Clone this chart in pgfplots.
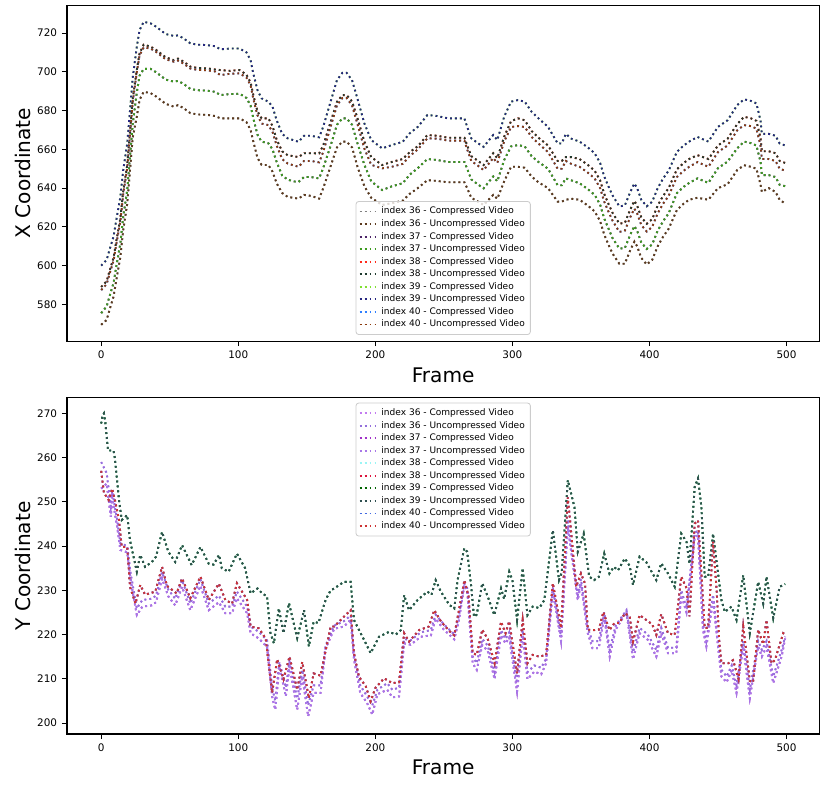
\documentclass[border=0pt]{standalone}
\usepackage{fontspec}
\setmainfont{DejaVu Sans}
\usepackage{pgfplots}
\pgfplotsset{compat=1.18}
\usepackage{pgfplotstable}

\definecolor{t36c}{HTML}{808080}
\definecolor{t36u}{HTML}{5C3A1E}
\definecolor{t37c}{HTML}{4B2367}
\definecolor{t37u}{HTML}{3C9A1E}
\definecolor{t38c}{HTML}{FF2A1A}
\definecolor{t38u}{HTML}{1E3A2E}
\definecolor{t39c}{HTML}{7FE030}
\definecolor{t39u}{HTML}{262680}
\definecolor{t40c}{HTML}{2F7FFF}
\definecolor{t40u}{HTML}{8B3A0E}
\definecolor{b36c}{HTML}{C27BF0}
\definecolor{b36u}{HTML}{9370DB}
\definecolor{b37c}{HTML}{A030C8}
\definecolor{b37u}{HTML}{A878E8}
\definecolor{b38c}{HTML}{9AF5F5}
\definecolor{b38u}{HTML}{DC143C}
\definecolor{b39c}{HTML}{006400}
\definecolor{b39u}{HTML}{2F4F4F}
\definecolor{b40c}{HTML}{4169E1}
\definecolor{b40u}{HTML}{CD3333}

\pgfplotstableread{
f n d b g o
0 600 589 587.4 575.5 569.5
4 603 592 590.5 579 572
6 608 597 595.5 584 577
9 615 604 602.5 591 584
11 623.5 612.5 611 599.5 592.5
14 635.5 624.5 623 611.5 604.5
16 649 638 636.5 625 618
19 663 652 650.5 639 632
21 680 669 667.5 656 649
23 697 686 684.5 673 666
26 713 701 700 689.5 677
28 721.5 709.5 708.5 698 685.5
31 725.8 714 712.6 701.5 689.7
36 725 713 712 701.5 689
40 723.3 711.3 710.3 699.8 687.3
47 719.5 707.5 706.5 696 683.5
53 718.5 706 705.2 694.9 682
56 718.8 706.8 705.8 695.3 682.8
60 717.3 705.3 704.3 693.8 681.3
65 714.7 702.7 701.7 691.2 678.7
70 714 702 701 690.5 678
77 713.8 701.8 700.8 690.3 677.8
83 713.2 701.2 700.2 689.7 677.2
87 711.6 700.9 698.3 688 676
94 712 700.5 699 688.5 676
101 712 700.9 699.2 688.7 676
106 710 698.5 697 686.5 674
109 706 694.5 693 682.5 670
111 699 688 686 676 664
114 690.6 679.6 677.6 667.6 655.6
117 686.3 676 673.3 664 652
122 684.6 676 672.5 663.1 651.9
125 682 672 669 660 648.5
128 675 665 662 653.5 642.5
132 668 659 655 646.5 637.5
136 665.7 657 652.7 644.4 635.5
140 664.8 656.5 651.8 643.5 635
144 663.9 656 651 643.2 634.6
148 667 658 654 645.7 636.5
153 667 658 654 645.7 636
159 666.2 657.9 653.3 645 634.6
162 671.7 662 658.7 650.4 640
167 683.7 673.2 670.7 661 650.5
172 695.7 684.5 682.7 672.7 661
176 699.5 688 686.5 676 664
179 699.5 688 686.5 676 664
183 695.7 684.7 682.7 672.7 661
187 686 676 673 663 651
192 673.4 664 660.4 652 641
197 664.8 656 652 643.5 635
205 660.5 651.9 650.2 639 631.3
212 662.2 653.5 651 640.9 632.2
220 663.9 655 652.5 642.5 633.5
225 668.2 658.5 656.5 646.9 637
231 671.6 661.6 660 650.3 640
238 677.7 667.4 665.7 655 644.1
245 677.2 667 665.5 654.5 643.7
253 676 666 664.5 653.5 643
260 676 666 664.5 653.5 643
265 676 666 664.5 653.5 643
267 671.6 662 660 650 640
270 665.7 656.5 654 644.5 635
275 663.1 654 651.5 641.8 633
279 661.3 651.9 649.3 639.9 631.3
286 667.4 658 655.5 646 636.5
289 664.8 655.5 653 643.5 634.5
294 676.8 666.5 664 654.5 643.5
299 684.6 674.5 671.5 661.5 651
304 685.4 676 672 662.2 651
309 684.6 675 671.5 661.5 650.5
314 679.4 669.5 666.4 656.5 646
319 676 666 663 653.5 643
326 671.6 662 658.6 650 640
333 663.1 654 650 641.5 633
336 663 654 650 641.5 633
339 668 656 654 645 634
343 665.5 656 652.5 644 634.5
349 664 655 651 642.5 634
355 661 652 648 639.5 631
360 658 649 645 636.5 628
364 653 644 640 631.5 623
367 646 637 633 624.3 616
370 641 632 628 619.3 611
373 636.3 627.3 623.3 614.3 606.3
378 630.6 621.7 617.4 608.8 601
382 631 622 618 609 601
386 638 629 625 616 608
389 642.4 633.4 629.4 620.4 612.4
391 640 631 627 618 610
394 634 625 621 612 604
398 630.6 621.6 617.6 608.6 600.6
402 633 624 620 611 603
406 640 631 627 618 610
410 645 636 632 623 615
414 649 640 636 627 619
420 658.7 649.7 645.7 637.4 628.7
425 662 653 649 640.7 632
429 664 655 651 642.7 634
435 666.4 657 653.4 645 635
443 664 655 651 642.7 634
450 671.6 662 658.6 650.3 640
457 675 665.5 662 653.7 642
464 682.8 673 669.8 660.5 649.3
469 685.8 676.8 672.5 664 651.8
474 685 676 672 663.2 651
478 683.7 674.7 670.7 662 650
481 675 666 662 653.7 642
482 668 659 655 646.7 638
487 668 659 655 646.7 640
492 667 658 654 645.7 638
495 663 654 650 641.7 634
499 662 653 649 641 632
}\topdata

\pgfplotstableread{
f y
0 267.7
1 269.5
2 270
3 268
5 261.6
9 261.6
10 259.8
13 250.4
15 245.9
19 247
21 241.3
26 234.2
28.5 238
32 235.3
37 236.4
40 237.6
44.4 243.2
49 238.7
54 236.4
59 240.2
66 235.7
72.4 239.8
78.5 236
82 235.8
86 238
88 235
93 234.2
99 238.3
105 235
109 229.3
114 230.4
117.5 229.3
121 228.6
123.5 220.3
126 218
129.6 225.9
133 220.3
137 227.1
143 219.2
148 225.5
151.5 217.3
155 222.9
158.5 222.6
163.7 227.8
167.4 230
170 230.4
177 231.9
182 231.9
184.4 223.3
190.6 219.5
196.6 215.8
202.7 219.5
210 220.6
215 220
218.6 221
221 228.9
224.6 225.5
230.8 227.8
238 229.7
241 229
244 232.3
247.8 229.7
254 226.7
257.6 225.9
260 232.3
264.9 239.5
267 238.7
269.7 231.6
272 224
274 224.5
278 231.6
282 228.6
286.8 224.4
291.7 230.4
294 228
297.7 234.2
300 232.3
303.4 223.3
307.5 235
311 224.4
314.8 226.3
319.7 226
323.3 227.8
329.5 243.6
334 232.3
336 234
340.4 254.9
345.3 248.8
347.7 238.7
352 242.8
356 233.1
359.6 232.3
363 233
367 238.3
370.8 233.8
374 235.3
377 234.5
382 237.2
385.6 235.5
388 231.2
392.8 237.6
397.6 236.4
401 234.5
405 232.3
408.6 236.1
413.5 233.8
418.4 230.8
423.2 242.8
427 241
429.2 236
433 253.4
435.4 255.3
437.9 248.8
440.3 233.1
442.8 233
446.4 242.8
450 234
452.5 227.8
455 225.1
459.8 226.3
463.5 223.3
468.4 233.4
473.2 220.3
479.3 231.9
483 227
485.4 233.1
490.3 223.7
495 230.8
499 231.4
}\Tdata

\pgfplotstableread{
f y
0 257
2 252
5.5 250.4
8 253
10 250.4
13 245.9
15 239.8
19 239.8
21 230.8
25 227
28.5 231.2
32 229
39.5 229.7
44.4 235.3
48 231
55 229.3
59 232.7
65 228.2
72.4 233.1
78.5 227.8
85.8 231.5
90.6 227.8
95.5 227
99 231.6
106.5 227.8
109 221.8
115 221.4
120 219.1
124.7 206.8
128.4 214.4
133 209.9
137.4 215
143 207.5
146.7 213.8
151.5 205.6
155 211.2
160 210.7
163.7 216.3
167.4 221.8
170 221.8
177 224
182 225.5
184.4 215.8
188 210.5
193 208.3
196.6 204.9
200 207.9
206.4 210.1
212.4 209
217.3 209.2
221 220.3
224.6 218.4
232 221
239 221.8
243 225.5
248 222.9
254 220.8
257.6 219.8
261 225.5
265 232.3
268 228.6
271 215.8
274 215.4
278 221.1
282 219
287 213.5
291.7 222.9
295 220.3
297.7 223
303.4 211.2
307.5 223.3
311 213.5
314.8 215.4
319.7 215
324.6 215.4
329.5 231.6
335.5 221.5
340.4 251
342 246
346.5 230.8
350 233.8
353 231.5
355 221.1
359.6 221
363 221.1
366.4 225.1
370.8 221
374.5 222.6
378 222.6
382 224.8
385.6 224.1
388 218.4
392.8 224.4
397.6 223.3
402 222.3
405 219.9
408.6 224.6
413.5 220.3
418.4 219.9
423.2 233.1
427 230.5
429.2 224.1
433 245.1
435.4 245.8
437.9 233.8
440.3 221.5
442.8 221.5
446.4 241
449 230
451 218.1
452.5 213.5
457.5 213.5
461 214.2
465 209.9
468.4 221.8
473.2 209.5
475.6 209.2
479.3 221.1
483 217.8
485.4 223.3
489 213.5
491.5 214.2
497.6 220.3
499 220
}\Rdata

\pgfplotstableread{
f p q
0 253 259
4 254.1 256.5
7 246.6 249
8 251 252.5
11.6 244.4 246
14 239.1 240.6
19 238.6 240
21.5 232.3 233.8
26 224.4 225.9
30 226.3 227.8
37 226.6 228.1
40 227.3 228.8
44.4 232.6 234.1
49 228.6 230.1
54 226.6 228.1
59 230.8 232.3
65 225.5 227
72.4 231 232.5
78.5 225.5 227
85.8 227.3 228.8
90.6 224.8 226.3
95.5 224.8 226.3
99 228.2 229.7
106.5 224.8 226.3
109 220.3 221.8
115 219.1 220.6
121 217.2 218.7
124.7 206 208
127 203 205
130 212.8 213.8
134.7 206 208
137.4 212.8 213.8
143 203 205.5
146.7 210.5 212
151 201.5 204
155 206.8 208.5
160 206.8 208.5
163.7 216.8 217.5
170 221.3 222
177 221.8 223
182 223.3 224.3
184.4 214.4 215.5
189 206.8 208.5
194 204.5 206
197.8 201.9 204
201.5 206.5 207.5
208.7 207.5 209
212.4 205.8 207.5
217.3 206 208
221 218 219
225.8 217.7 218.7
233.2 219.5 220.5
240.5 219.8 221
244 223.6 224.5
250 221.1 222.3
257.6 218.9 220
261 223.3 224.3
265 231.2 231.5
267 230 230.5
271 213.5 215
274 212 213.5
278 217.6 219
282 216.3 217.5
287 209.9 211.5
291.7 219.8 221
295 218 219
297.7 219.3 220.5
303.4 207.1 209
307.5 219.8 221
311 209.9 211.5
316 211.6 213
321 211 212.5
324.6 213.5 214.5
329.5 229.7 230.5
335.5 218.5 219.5
340.4 244.4 246
347.7 227.8 229
350 231.5 232.5
355 220.3 221.5
358.4 216.9 218.5
363 216.9 218.5
367 224 225
371 215 216.5
375.3 221.1 222
383.2 225.1 225.5
388 214.4 216
392.8 220.3 221.5
398.8 218.8 220
405 215 216.5
408.6 220.3 221.5
413.5 215.8 217
419.6 215.8 217
423.2 228.9 230
427 225 226
433 242.1 243
435.4 242.4 243.5
439 221.1 222.5
441.5 217.3 218.5
446.4 227.8 229
450 217.3 218.5
452.5 210.5 212
456.3 209.2 210.5
460 211.9 213
463.5 206.8 208.5
468.4 217.3 218.5
473.2 205.6 207.5
479.3 217.3 218.5
482 215 216.5
485.4 217.3 218.5
490.3 209 210.5
496.4 215 216.5
499 219.1 219.5
}\Pdata

\pgfplotsset{common/.style={
  scale only axis, width=541.7pt, height=242pt,
  xmin=-24.95, xmax=523.95, xtick={0,100,...,500},
  tick align=outside, tick pos=left,
  major tick length=3.6pt,
  every tick/.style={black, line width=0.6pt},
  axis line style={black, line width=0.8pt},
  ticklabel style={font=\fontsize{7.5}{9}\selectfont},
  /pgf/number format/assume math mode=true,
  xlabel=Frame,
  label style={font=\fontsize{14.5}{17}\selectfont},
  xlabel style={at={(axis description cs:0.5,-0.1219)}, anchor=base},
  ylabel style={at={(axis description cs:-0.0491,0.5)}, anchor=base},
  legend cell align=left,
  legend style={font=\fontsize{6.5}{7.8}\selectfont, draw=black!20, line width=0.6pt, rounded corners=2pt, fill=white, fill opacity=0.8, text opacity=1, row sep=-1.4pt, inner xsep=2pt, inner ysep=2pt},
  legend image code/.code={\draw[#1] (0pt,0pt) -- (13pt,0pt);},
  every axis plot/.append style={line width=1.35pt, dash pattern=on 1.35pt off 2.2pt},
}}

\begin{document}
\begin{tikzpicture}
\path[use as bounding box] (0,0) rectangle (594pt,568.8pt);
\begin{axis}[common, at={(48.24pt,323.1pt)}, anchor=south west,
  ymin=561, ymax=734.4, ytick={580,600,...,720}, ylabel={X Coordinate},
  legend style={at={(0.5,0.0187)}, anchor=south}]
\addplot[t36c] table[x=f,y=o]{\topdata};
\addlegendentry{index 36 - Compressed Video}
\addplot[t36u] table[x=f,y=o]{\topdata};
\addlegendentry{index 36 - Uncompressed Video}
\addplot[t37c] table[x=f,y=g]{\topdata};
\addlegendentry{index 37 - Compressed Video}
\addplot[t37u] table[x=f,y=g]{\topdata};
\addlegendentry{index 37 - Uncompressed Video}
\addplot[t38c] table[x=f,y=d]{\topdata};
\addlegendentry{index 38 - Compressed Video}
\addplot[t38u] table[x=f,y=d]{\topdata};
\addlegendentry{index 38 - Uncompressed Video}
\addplot[t39c] table[x=f,y=n]{\topdata};
\addlegendentry{index 39 - Compressed Video}
\addplot[t39u] table[x=f,y=n]{\topdata};
\addlegendentry{index 39 - Uncompressed Video}
\addplot[t40c] table[x=f,y=b]{\topdata};
\addlegendentry{index 40 - Compressed Video}
\addplot[t40u] table[x=f,y=b]{\topdata};
\addlegendentry{index 40 - Uncompressed Video}
\end{axis}
\begin{axis}[common, at={(48.24pt,40.3pt)}, anchor=south west,
  ymin=197.5, ymax=273.5, ytick={200,210,...,270}, ylabel={Y Coordinate},
  legend style={at={(0.5,0.986)}, anchor=north}]
\addplot[b36c] table[x=f,y=q]{\Pdata};
\addlegendentry{index 36 - Compressed Video}
\addplot[b36u] table[x=f,y=q]{\Pdata};
\addlegendentry{index 36 - Uncompressed Video}
\addplot[b37c] table[x=f,y=p]{\Pdata};
\addlegendentry{index 37 - Compressed Video}
\addplot[b37u] table[x=f,y=p]{\Pdata};
\addlegendentry{index 37 - Uncompressed Video}
\addplot[b38c] table[x=f,y=y]{\Tdata};
\addlegendentry{index 38 - Compressed Video}
\addplot[b38u] table[x=f,y=y]{\Rdata};
\addlegendentry{index 38 - Uncompressed Video}
\addplot[b39c] table[x=f,y=y]{\Tdata};
\addlegendentry{index 39 - Compressed Video}
\addplot[b39u] table[x=f,y=y]{\Tdata};
\addlegendentry{index 39 - Uncompressed Video}
\addplot[b40c] table[x=f,y=y]{\Rdata};
\addlegendentry{index 40 - Compressed Video}
\addplot[b40u] table[x=f,y=y]{\Rdata};
\addlegendentry{index 40 - Uncompressed Video}
\end{axis}
\end{tikzpicture}
\end{document}
